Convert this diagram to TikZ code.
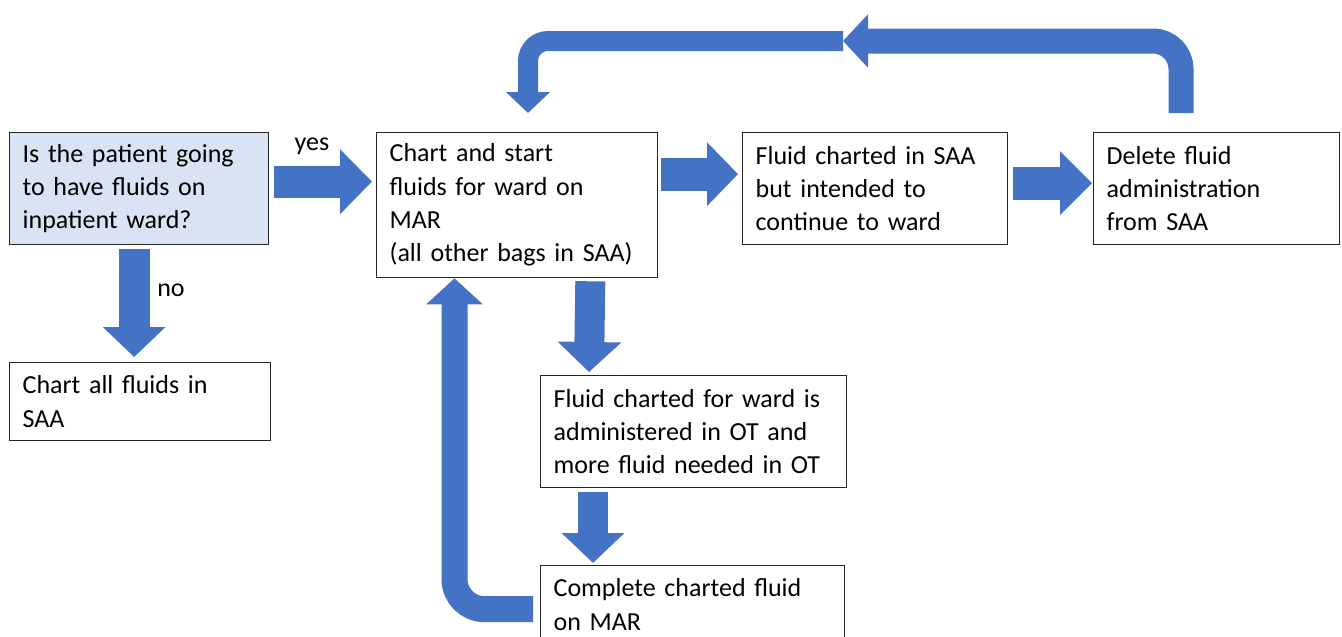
\documentclass[tikz,border=0pt]{standalone}
\usepackage{fontspec}
\setmainfont{Carlito}
\usetikzlibrary{arrows.meta,calc}
\definecolor{barblue}{HTML}{4472C4}
\definecolor{qfill}{HTML}{DAE3F3}
\tikzset{
  box/.style={draw=black!85, line width=1.3pt, inner xsep=13pt, inner ysep=0pt,
    align=left, anchor=north west, font=\fontsize{26}{33.3}\selectfont},
  lbl/.style={font=\fontsize{26}{30}\selectfont, inner sep=0pt},
  barrow/.style={draw=barblue, line cap=butt},
}
\begin{document}
\begin{tikzpicture}[x=1pt,y=-1pt]
\useasboundingbox (0,0) rectangle (1342,637);
% boxes
\node[box, fill=qfill, text width=233pt, minimum height=112pt] (A) at (9,132)
  {Is the patient going\\to have fluids on\\inpatient ward?};
\node[box, text width=235pt, minimum height=78pt] (G) at (9,362)
  {Chart all fluids in\\SAA};
\node[box, text width=255pt, minimum height=145pt] (B) at (376,132)
  {Chart and start\\fluids for ward on\\MAR\\(all other bags in SAA)};
\node[box, text width=239pt, minimum height=112pt] (C) at (742,132)
  {Fluid charted in SAA\\but intended to\\continue to ward};
\node[box, text width=220pt, minimum height=112pt] (D) at (1093,132)
  {Delete fluid\\administration\\from SAA};
\node[box, text width=280pt, minimum height=112pt] (E) at (540,375)
  {Fluid charted for ward is\\administered in OT and\\more fluid needed in OT};
\node[box, text width=278pt, minimum height=78pt] (F) at (540,565)
  {Complete charted fluid\\on MAR};
% labels
\node[lbl] (yes) at (312,146) {yes};
\node[lbl] (no) at (171,290) {no};
% straight block arrows
\draw[barrow, line width=32pt, -{Triangle[width=63pt,length=32pt]}]
  ($(A.east)+(5,-7)$) -- ($(B.west)+(-4,-23.5)$);
\draw[barrow, line width=31pt, -{Triangle[width=61pt,length=30pt]}]
  ($(A.south)+(-5,4)$) -- ($(G.north)+(-6,-5)$);
\draw[barrow, line width=33pt, -{Triangle[width=62pt,length=31pt]}]
  ($(B.east)+(3,-31)$) -- ($(C.west)+(-4,-14.5)$);
\draw[barrow, line width=33pt, -{Triangle[width=62pt,length=32pt]}]
  ($(C.east)+(5,-5.5)$) -- ($(D.west)+(-1,-5.5)$);
\draw[barrow, line width=30pt, -{Triangle[width=62pt,length=30pt]}]
  ($(B.south east)+(-68,3)$) -- ($(E.north west)+(49,-3)$);
\draw[barrow, line width=30pt, -{Triangle[width=61pt,length=30pt]}]
  ($(E.south west)+(53,4)$) -- ($(F.north west)+(53,-2)$);
% bent arrow from F back to B
\draw[barrow, line width=26pt, rounded corners=30pt, -{Triangle[width=55pt,length=26pt]}]
  ($(F.west)+(-7,4.5)$) -| ($(B.south west)+(78.5,0)$);
% top loop from D back to B
\coordinate (topmid) at (843,41);
\draw[barrow, line width=20pt, rounded corners=20pt, -{Triangle[width=43pt,length=21pt]}]
  (topmid) -| ($(B.north west)+(152,-19)$);
\draw[barrow, line width=25pt, rounded corners=28pt, -{Triangle[width=52pt,length=25pt]}]
  ($(D.north west)+(88,-19)$) |- (topmid);
\end{tikzpicture}
\end{document}
